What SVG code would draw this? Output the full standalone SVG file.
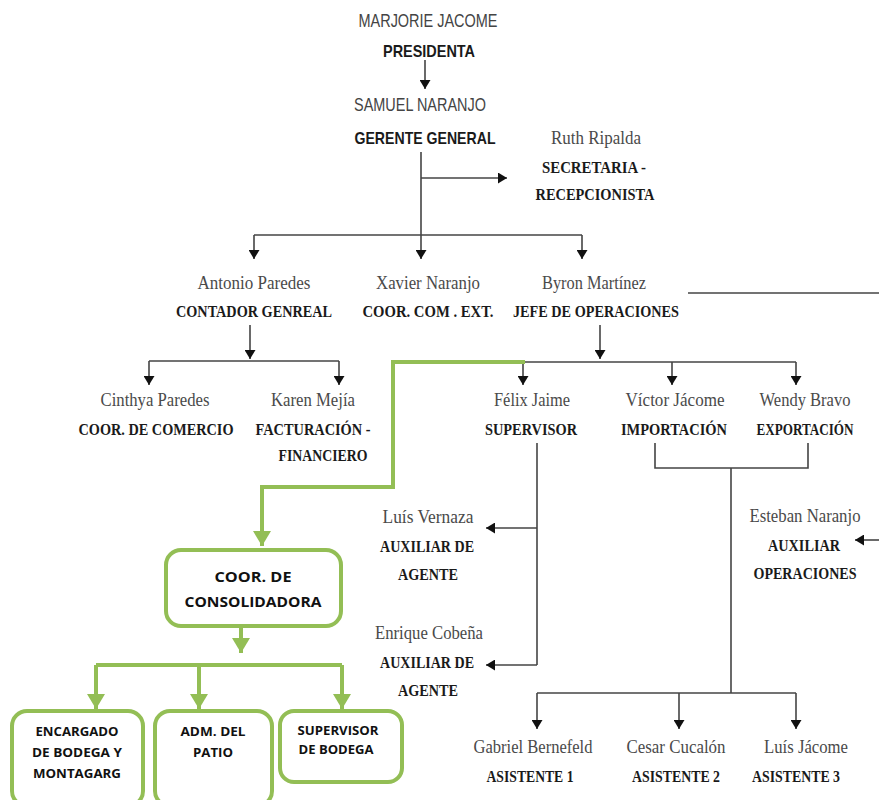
<svg xmlns="http://www.w3.org/2000/svg" width="879" height="800" viewBox="0 0 879 800">
<defs>
<marker id="ah" markerUnits="userSpaceOnUse" markerWidth="9" markerHeight="11" refX="9" refY="5.5" orient="auto"><path d="M0,0 L9,5.5 L0,11 z" fill="#111"/></marker>
<marker id="gh" markerUnits="userSpaceOnUse" markerWidth="15" markerHeight="18" refX="15" refY="9" orient="auto"><path d="M0,0 L15,9 L0,18 z" fill="#93BE55"/></marker>
<style>
.ln{stroke:#444;stroke-width:1.6;fill:none}
.ar{stroke:#444;stroke-width:1.6;fill:none;marker-end:url(#ah)}
.gl{stroke:#93BE55;stroke-width:4;fill:none}
.ga{stroke:#93BE55;stroke-width:4;fill:none;marker-end:url(#gh)}
.box{fill:#fff;stroke:#93BE55;stroke-width:4}
.nm{font-family:"Liberation Serif",serif;font-size:19px;fill:#4a4a4a;text-anchor:middle}
.tt{font-family:"Liberation Serif",serif;font-size:17.5px;font-weight:bold;fill:#1a1a1a;text-anchor:middle}
.sn{font-family:"Liberation Sans",sans-serif;font-size:18px;fill:#444;text-anchor:middle}
.sb{font-family:"Liberation Sans",sans-serif;font-size:17px;font-weight:bold;fill:#1a1a1a;text-anchor:middle}
.gb{font-family:"Open Sans","Liberation Sans",sans-serif;font-size:14.5px;font-weight:bold;fill:#111;text-anchor:middle}
.gs{font-family:"Open Sans","Liberation Sans",sans-serif;font-size:12px;font-weight:bold;fill:#111;text-anchor:middle}
</style>
</defs>
<rect width="879" height="800" fill="#fff"/>
<g id="connectors">
<line class="ar" x1="425" y1="60" x2="425" y2="89"/>
<line class="ar" x1="421" y1="152" x2="421" y2="259"/>
<line class="ar" x1="421" y1="178" x2="507" y2="178"/>
<line class="ln" x1="254" y1="235" x2="582" y2="235"/>
<line class="ar" x1="254" y1="235" x2="254" y2="259"/>
<line class="ar" x1="582" y1="235" x2="582" y2="259"/>
<line class="ln" x1="688" y1="293" x2="879" y2="293"/>
<line class="ar" x1="250" y1="325" x2="250" y2="359"/>
<line class="ln" x1="149" y1="361" x2="339" y2="361"/>
<line class="ar" x1="149" y1="361" x2="149" y2="385"/>
<line class="ar" x1="339" y1="361" x2="339" y2="385"/>
<line class="ar" x1="600" y1="325" x2="600" y2="359"/>
<line class="ln" x1="523" y1="362" x2="796" y2="362"/>
<line class="ar" x1="523" y1="362" x2="523" y2="385"/>
<line class="ar" x1="672" y1="362" x2="672" y2="385"/>
<line class="ar" x1="796" y1="362" x2="796" y2="385"/>
<polyline class="ln" points="655,443 655,468 808,468 808,443"/>
<line class="ln" x1="731" y1="468" x2="731" y2="693"/>
<line class="ln" x1="537" y1="443" x2="537" y2="665"/>
<line class="ar" x1="537" y1="528" x2="486" y2="528"/>
<line class="ar" x1="537" y1="665" x2="486" y2="665"/>
<line class="ar" x1="879" y1="540" x2="855" y2="540"/>
<line class="ln" x1="537" y1="693" x2="796" y2="693"/>
<line class="ar" x1="537" y1="693" x2="537" y2="729"/>
<line class="ar" x1="679" y1="693" x2="679" y2="729"/>
<line class="ar" x1="796" y1="693" x2="796" y2="729"/>
<polyline class="ga" points="525,362 393,362 393,487 262,487 262,546"/>
<line class="ga" x1="241" y1="625" x2="241" y2="653"/>
<line class="gl" x1="96" y1="665" x2="342" y2="665"/>
<line class="ga" x1="96" y1="665" x2="96" y2="709"/>
<line class="ga" x1="199" y1="665" x2="199" y2="709"/>
<line class="ga" x1="342" y1="665" x2="342" y2="709"/>
</g>
<g id="presidenta">
<text class="sn" x="428" y="27" textLength="139" lengthAdjust="spacingAndGlyphs">MARJORIE JACOME</text>
<text class="sb" x="429" y="57" textLength="92" lengthAdjust="spacingAndGlyphs">PRESIDENTA</text>
</g>
<g id="gerente">
<text class="sn" x="420" y="111" textLength="132" lengthAdjust="spacingAndGlyphs">SAMUEL NARANJO</text>
<text class="sb" x="425" y="144" textLength="141" lengthAdjust="spacingAndGlyphs">GERENTE GENERAL</text>
</g>
<g id="secretaria">
<text class="nm" x="596" y="144" textLength="90" lengthAdjust="spacingAndGlyphs">Ruth Ripalda</text>
<text class="tt" x="594" y="173" textLength="104" lengthAdjust="spacingAndGlyphs">SECRETARIA -</text>
<text class="tt" x="595" y="200" textLength="119" lengthAdjust="spacingAndGlyphs">RECEPCIONISTA</text>
</g>
<g id="contador">
<text class="nm" x="254" y="289" textLength="113" lengthAdjust="spacingAndGlyphs">Antonio Paredes</text>
<text class="tt" x="254" y="317" textLength="156" lengthAdjust="spacingAndGlyphs">CONTADOR GENREAL</text>
</g>
<g id="coorcomext">
<text class="nm" x="428" y="289" textLength="104" lengthAdjust="spacingAndGlyphs">Xavier Naranjo</text>
<text class="tt" x="428" y="317" textLength="131" lengthAdjust="spacingAndGlyphs">COOR. COM . EXT.</text>
</g>
<g id="jefeoperaciones">
<text class="nm" x="594" y="289" textLength="104" lengthAdjust="spacingAndGlyphs">Byron Martínez</text>
<text class="tt" x="596" y="317" textLength="166" lengthAdjust="spacingAndGlyphs">JEFE DE OPERACIONES</text>
</g>
<g id="coorcomercio">
<text class="nm" x="155" y="406" textLength="109" lengthAdjust="spacingAndGlyphs">Cinthya Paredes</text>
<text class="tt" x="156" y="435" textLength="155" lengthAdjust="spacingAndGlyphs">COOR. DE COMERCIO</text>
</g>
<g id="facturacion">
<text class="nm" x="313" y="406" textLength="84" lengthAdjust="spacingAndGlyphs">Karen Mejía</text>
<text class="tt" x="313" y="435" textLength="115" lengthAdjust="spacingAndGlyphs">FACTURACIÓN -</text>
<text class="tt" x="323" y="461" textLength="89" lengthAdjust="spacingAndGlyphs">FINANCIERO</text>
</g>
<g id="supervisor">
<text class="nm" x="532" y="406" textLength="76" lengthAdjust="spacingAndGlyphs">Félix Jaime</text>
<text class="tt" x="531" y="435" textLength="92" lengthAdjust="spacingAndGlyphs">SUPERVISOR</text>
</g>
<g id="importacion">
<text class="nm" x="675" y="406" textLength="99" lengthAdjust="spacingAndGlyphs">Víctor Jácome</text>
<text class="tt" x="674" y="435" textLength="106" lengthAdjust="spacingAndGlyphs">IMPORTACIÓN</text>
</g>
<g id="exportacion">
<text class="nm" x="805" y="406" textLength="91" lengthAdjust="spacingAndGlyphs">Wendy Bravo</text>
<text class="tt" x="805" y="435" textLength="97" lengthAdjust="spacingAndGlyphs">EXPORTACIÓN</text>
</g>
<g id="auxiliar1">
<text class="nm" x="428" y="523" textLength="91" lengthAdjust="spacingAndGlyphs">Luís Vernaza</text>
<text class="tt" x="427" y="552" textLength="94" lengthAdjust="spacingAndGlyphs">AUXILIAR DE</text>
<text class="tt" x="428" y="580" textLength="60" lengthAdjust="spacingAndGlyphs">AGENTE</text>
</g>
<g id="auxiliar2">
<text class="nm" x="429" y="639" textLength="108" lengthAdjust="spacingAndGlyphs">Enrique Cobeña</text>
<text class="tt" x="427" y="668" textLength="94" lengthAdjust="spacingAndGlyphs">AUXILIAR DE</text>
<text class="tt" x="428" y="696" textLength="60" lengthAdjust="spacingAndGlyphs">AGENTE</text>
</g>
<g id="auxiliaroperaciones">
<text class="nm" x="805" y="522" textLength="111" lengthAdjust="spacingAndGlyphs">Esteban Naranjo</text>
<text class="tt" x="804" y="551" textLength="72" lengthAdjust="spacingAndGlyphs">AUXILIAR</text>
<text class="tt" x="805" y="579" textLength="103" lengthAdjust="spacingAndGlyphs">OPERACIONES</text>
</g>
<g id="asistente1">
<text class="nm" x="533" y="753" textLength="119" lengthAdjust="spacingAndGlyphs">Gabriel Bernefeld</text>
<text class="tt" x="530" y="782" textLength="87" lengthAdjust="spacingAndGlyphs">ASISTENTE 1</text>
</g>
<g id="asistente2">
<text class="nm" x="676" y="753" textLength="99" lengthAdjust="spacingAndGlyphs">Cesar Cucalón</text>
<text class="tt" x="676" y="782" textLength="88" lengthAdjust="spacingAndGlyphs">ASISTENTE 2</text>
</g>
<g id="asistente3">
<text class="nm" x="806" y="753" textLength="84" lengthAdjust="spacingAndGlyphs">Luís Jácome</text>
<text class="tt" x="796" y="782" textLength="88" lengthAdjust="spacingAndGlyphs">ASISTENTE 3</text>
</g>
<g id="consolidadora">
<rect class="box" x="166" y="550" width="175" height="76" rx="15"/>
<text class="gb" x="253" y="582" textLength="77" lengthAdjust="spacingAndGlyphs">COOR. DE</text>
<text class="gb" x="253" y="607" textLength="137" lengthAdjust="spacingAndGlyphs">CONSOLIDADORA</text>
</g>
<g id="encargado">
<rect class="box" x="12" y="711" width="131" height="95" rx="15"/>
<text class="gs" x="77" y="736" textLength="83" lengthAdjust="spacingAndGlyphs">ENCARGADO</text>
<text class="gs" x="77" y="757" textLength="90" lengthAdjust="spacingAndGlyphs">DE BODEGA Y</text>
<text class="gs" x="77" y="778" textLength="88" lengthAdjust="spacingAndGlyphs">MONTAGARG</text>
</g>
<g id="admpatio">
<rect class="box" x="155" y="711" width="117" height="95" rx="15"/>
<text class="gs" x="213" y="736" textLength="65" lengthAdjust="spacingAndGlyphs">ADM. DEL</text>
<text class="gs" x="213" y="757" textLength="40" lengthAdjust="spacingAndGlyphs">PATIO</text>
</g>
<g id="supervisorbodega">
<rect class="box" x="280" y="711" width="122" height="71" rx="14"/>
<text class="gs" x="338" y="735" textLength="81" lengthAdjust="spacingAndGlyphs">SUPERVISOR</text>
<text class="gs" x="336" y="754" textLength="75" lengthAdjust="spacingAndGlyphs">DE BODEGA</text>
</g>
</svg>
